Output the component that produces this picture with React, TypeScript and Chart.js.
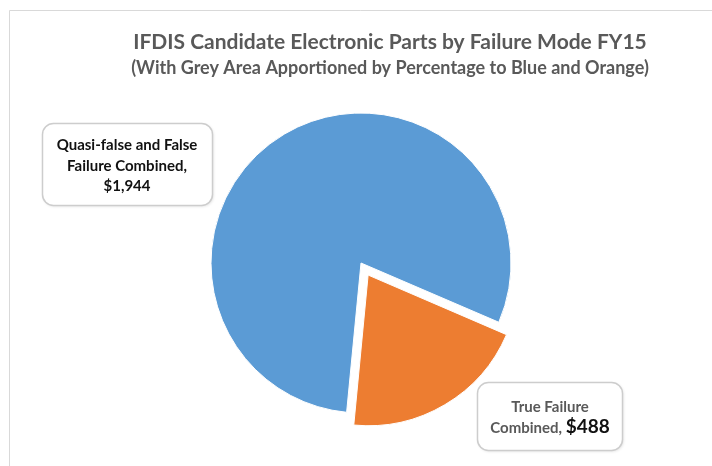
import React, { useEffect, useRef } from "react";
import { Chart, registerables } from "chart.js";

Chart.register(...registerables);

// ---- data ----
const categories = ["Quasi-false and False Failure Combined", "True Failure Combined"];
const categoryLines = [
  ["Quasi-false and False", "Failure Combined,"],
  ["True Failure", "Combined,"],
];
const values = [1944, 488];
const sliceColors = ["#5B9BD5", "#ED7D31"];
const sliceOffsets = [0, 56];
const titleText = "IFDIS Candidate Electronic Parts by Failure Mode FY15";
const subtitleText = "(With Grey Area Apportioned by Percentage to Blue and Orange)";

const FONT = "Lato, 'Open Sans', sans-serif";

// label box placement relative to the pie centre
const labelBoxes = [
  { dx: -319, dy: -140, w: 170, h: 82, tx: -234, lineY: [-118, -97, -77] },
  { dx: 116, dy: 119, w: 145, h: 68, tx: 189, lineY: [144, 164] },
];

function fmt(v: number) {
  return "$" + v.toLocaleString("en-US");
}

function roundRect(ctx: CanvasRenderingContext2D, x: number, y: number, w: number, h: number, r: number) {
  ctx.beginPath();
  ctx.moveTo(x + r, y);
  ctx.lineTo(x + w - r, y);
  ctx.arcTo(x + w, y, x + w, y + r, r);
  ctx.lineTo(x + w, y + h - r);
  ctx.arcTo(x + w, y + h, x + w - r, y + h, r);
  ctx.lineTo(x + r, y + h);
  ctx.arcTo(x, y + h, x, y + h - r, r);
  ctx.lineTo(x, y + r);
  ctx.arcTo(x, y, x + r, y, r);
  ctx.closePath();
}

const framePlugin = {
  id: "frameTitle",
  beforeDraw(chart: any) {
    const ctx: CanvasRenderingContext2D = chart.ctx;
    ctx.save();
    ctx.fillStyle = "#ffffff";
    ctx.fillRect(0, 0, chart.width, chart.height);
    ctx.strokeStyle = "#d9d9d9";
    ctx.lineWidth = 1;
    ctx.beginPath();
    ctx.moveTo(9.5, chart.height);
    ctx.lineTo(9.5, 10.5);
    ctx.lineTo(chart.width, 10.5);
    ctx.stroke();
    ctx.fillStyle = "#595959";
    ctx.textAlign = "center";
    ctx.textBaseline = "middle";
    ctx.font = `bold 21px ${FONT}`;
    ctx.fillText(titleText, 390, 42);
    ctx.font = `bold 18px ${FONT}`;
    ctx.fillText(subtitleText, 390, 68);
    ctx.restore();
  },
};

const labelPlugin = {
  id: "calloutLabels",
  afterDatasetsDraw(chart: any) {
    const ctx: CanvasRenderingContext2D = chart.ctx;
    const meta = chart.getDatasetMeta(0);
    const arc = meta.data[0];
    const cx = arc.x;
    const cy = arc.y;
    ctx.save();
    labelBoxes.forEach((b, i) => {
      const x = cx + b.dx;
      const y = cy + b.dy;
      ctx.save();
      ctx.shadowColor = "rgba(0,0,0,0.12)";
      ctx.shadowBlur = 3;
      ctx.shadowOffsetX = 1;
      ctx.shadowOffsetY = 1;
      roundRect(ctx, x + 0.5, y + 0.5, b.w, b.h, 11);
      ctx.fillStyle = "#ffffff";
      ctx.fill();
      ctx.restore();
      roundRect(ctx, x + 0.5, y + 0.5, b.w, b.h, 11);
      ctx.strokeStyle = "#cdcdcd";
      ctx.lineWidth = 1.5;
      ctx.stroke();
      ctx.textBaseline = "middle";
      const lines = categoryLines[i];
      const value = fmt(values[i]);
      if (i === 0) {
        ctx.fillStyle = "#111111";
        ctx.textAlign = "center";
        ctx.font = `bold 15px ${FONT}`;
        const all = [...lines, value];
        all.forEach((t, k) => ctx.fillText(t, cx + b.tx, cy + b.lineY[k]));
      } else {
        ctx.textAlign = "center";
        ctx.fillStyle = "#595959";
        ctx.font = `bold 15px ${FONT}`;
        ctx.fillText(lines[0], cx + b.tx, cy + b.lineY[0]);
        const part1 = lines[1] + " ";
        const w1 = ctx.measureText(part1).width;
        ctx.font = `bold 19px ${FONT}`;
        const w2 = ctx.measureText(value).width;
        const start = cx + b.tx - (w1 + w2) / 2;
        ctx.textAlign = "left";
        ctx.font = `bold 15px ${FONT}`;
        ctx.fillStyle = "#595959";
        ctx.fillText(part1, start, cy + b.lineY[1] + 1);
        ctx.font = `bold 19px ${FONT}`;
        ctx.fillStyle = "#111111";
        ctx.fillText(value, start + w1, cy + b.lineY[1]);
      }
    });
    ctx.restore();
  },
};

export default function App() {
  const ref = useRef<HTMLCanvasElement | null>(null);
  useEffect(() => {
    if (!ref.current) return;
    const chart = new Chart(ref.current, {
      type: "pie",
      data: {
        labels: categories,
        datasets: [
          {
            data: values,
            backgroundColor: sliceColors,
            borderColor: "#ffffff",
            borderWidth: 1,
            offset: sliceOffsets,
            hoverOffset: 0,
          } as any,
        ],
      },
      options: {
        responsive: false,
        animation: false,
        rotation: 185.5,
        radius: 150,
        layout: { padding: { left: 191, top: 93, right: 181, bottom: 33 } },
        plugins: {
          legend: { display: false },
          title: { display: false },
          tooltip: { enabled: false },
        },
        events: [],
      } as any,
      plugins: [framePlugin, labelPlugin],
    });
    return () => chart.destroy();
  }, []);
  return (
    <div style={{ position: "fixed", left: 0, top: 0, width: 712, height: 466, background: "#fff" }}>
      <canvas ref={ref} width={712} height={466} style={{ width: 712, height: 466 }} />
    </div>
  );
}
